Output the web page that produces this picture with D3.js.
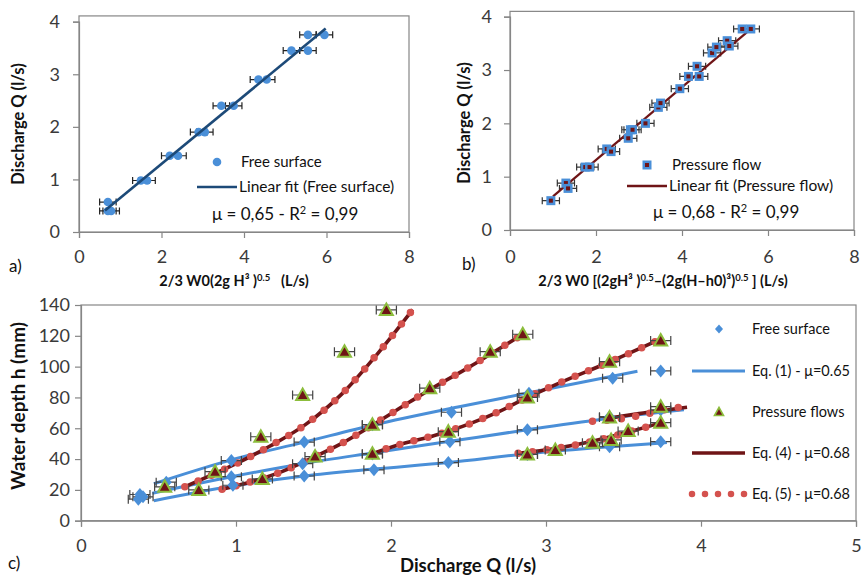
<!DOCTYPE html>
<html>
<head>
<meta charset="utf-8">
<script src="https://cdn.jsdelivr.net/npm/d3@7"></script>
<style>
  body { margin: 0; background: #fff; }
  svg { display: block; font-family: Lato, "Open Sans", sans-serif; }
</style>
</head>
<body>
<div id="mainGraphic"></div>
<script>
let svgWidth = 863
let svgHeight = 579

// ---- panel a : free surface, Q vs 2/3 W0 (2g H^3)^0.5
const aFree = [[0.70,0.40],[0.78,0.40],[0.70,0.57],[1.50,0.98],[1.65,0.98],[2.20,1.45],[2.40,1.45],
  [2.90,1.90],[3.05,1.90],[3.45,2.40],[3.75,2.40],[4.35,2.90],[4.55,2.90],[5.15,3.45],[5.55,3.45],
  [5.55,3.75],[5.95,3.75]]
const aFit = [[0.63,0.41],[5.98,3.87]]
// ---- panel b : pressure flow
const bPress = [[0.95,0.55],[1.30,0.88],[1.35,0.78],[1.75,1.18],[1.85,1.18],[2.25,1.52],[2.35,1.47],
  [2.75,1.72],[2.80,1.88],[2.85,1.88],[3.15,2.00],[3.45,2.30],[3.50,2.38],[3.95,2.65],[4.15,2.88],
  [4.35,3.07],[4.40,2.88],[4.70,3.32],[4.80,3.43],[5.05,3.55],[5.10,3.45],[5.40,3.77],[5.60,3.77]]
const bFit = [[1.00,0.63],[5.63,3.79]]
const abTicksX = [0, 2, 4, 6, 8]
const abTicksY = [0, 1, 2, 3, 4]

// ---- panel c : water depth vs discharge
const cFree = [[0.37,14],[0.38,17],[0.40,15.5],[0.55,25],[0.97,39],[0.97,28.6],[0.98,23],[1.44,51],
  [1.43,37],[1.44,29],[1.88,62.3],[1.88,43.3],[1.89,33],[2.39,70.4],[2.38,51.3],[2.37,37.7],
  [2.89,82.7],[2.88,59],[2.88,43],[3.43,92.5],[3.41,67.5],[3.41,48],[3.74,97.2],[3.74,71.9],[3.74,51.3]]
const cPress = [[0.54,22],[0.76,20],[0.865,31.8],[1.16,54.5],[1.17,27.1],[1.43,81.6],[1.51,41.6],
  [1.70,109.7],[1.97,136.8],[1.88,62.3],[1.88,43.5],[2.25,86],[2.37,57.8],[2.64,109.7],[2.85,121],
  [2.88,80],[2.88,43],[3.06,45.9],[3.30,50.6],[3.41,103.2],[3.41,67],[3.42,52.4],[3.53,58.2],
  [3.74,116.9],[3.74,74],[3.74,63.6]]
const eq1Lines = [
  [[0.47,24],[0.97,39.5],[1.44,51],[1.88,62],[2.44,74],[2.89,83],[3.59,97]],
  [[0.46,17.8],[0.97,28.5],[1.43,37],[1.88,44],[2.38,51.5],[2.88,59],[3.41,66.5],[3.89,72]],
  [[0.47,13],[0.98,22.5],[1.44,29],[1.89,33.5],[2.37,37.8],[2.88,43.5],[3.41,48],[3.78,50.7]]
]
const eq4Lines = [
  [[0.67,22],[0.98,36],[1.22,48.5],[1.45,62.5],[1.68,82],[1.91,108],[2.14,137]],
  [[0.91,20.4],[1.10,25.3],[1.30,32],[1.51,41.6],[1.67,49.5],[1.88,62],[2.12,77],[2.25,85],[2.51,100],[2.64,108],[2.85,121]],
  [[1.88,43.5],[2.04,49],[2.27,55],[2.51,63],[2.70,71],[2.88,80],[3.10,90],[3.41,103],[3.72,117]],
  [[2.82,43.7],[3.06,46.8],[3.30,51.5],[3.53,57.5],[3.74,63.5]],
  [[3.40,66.5],[3.60,69.5],[3.91,73.6]]
]
const eq5Lines = [eq4Lines[0], eq4Lines[1], eq4Lines[2], eq4Lines[3],
  [[3.30,64.5],[3.51,66.5],[3.62,68.6],[3.81,73],[3.90,74]]]
const cTicksX = [0, 1, 2, 3, 4, 5]
const cTicksY = [0, 20, 40, 60, 80, 100, 120, 140]
const cLegend = ["Free surface", "Eq. (1) - \u03bc=0.65", "Pressure flows", "Eq. (4) - \u03bc=0.68", "Eq. (5) - \u03bc=0.68"]

const blue = "#4a8fd8", darkRed = "#6f1416", dotRed = "#d4524e", navy = "#1d4a78",
      green = "#8cbd3c", axisGray = "#868686", tickText = "#3a3a3a"

renderChart();

function renderChart(){
  let graphic = d3.select("#mainGraphic")
    .append("svg")
      .attr("width", svgWidth)
      .attr("height", svgHeight)

  // ---------- helpers
  function axes(g, x, y, xTicks, yTicks, topY, yPad, xPad){
    g.append("rect")
      .attr("x", x.range()[0]).attr("y", topY)
      .attr("width", x.range()[1] - x.range()[0]).attr("height", y.range()[0] - topY)
      .attr("fill", "none").attr("stroke", axisGray).attr("stroke-width", 1.2)
    let ya = g.append("g").attr("transform", `translate(${x.range()[0]},0)`)
      .call(d3.axisLeft(y).tickValues(yTicks).tickFormat(d3.format("d")).tickSize(6).tickPadding(yPad))
    let xa = g.append("g").attr("transform", `translate(0,${y.range()[0]})`)
      .call(d3.axisBottom(x).tickValues(xTicks).tickFormat(d3.format("d")).tickSize(6).tickPadding(xPad))
    for (let a of [ya, xa]) {
      a.select(".domain").attr("stroke", axisGray).attr("stroke-width", 1.2)
      a.selectAll(".tick line").attr("stroke", axisGray).attr("stroke-width", 1.2)
      a.selectAll(".tick text").attr("fill", tickText).style("font-size", "18px")
        .style("font-family", "Lato, 'Open Sans', sans-serif")
    }
  }
  function hBars(g, pts, x, y, half, cap, color){
    let e = g.append("g").attr("stroke", color).attr("stroke-width", 1.2).attr("fill", "none")
    e.selectAll("path").data(pts).enter().append("path")
      .attr("d", d => {
        let x0 = x(d[0] - half), x1 = x(d[0] + half), yy = y(d[1])
        return `M${x0},${yy}H${x1}M${x0},${yy - cap}V${yy + cap}M${x1},${yy - cap}V${yy + cap}`
      })
  }
  function label(txt, xx, yy, size, weight, anchor){
    return graphic.append("text").attr("x", xx).attr("y", yy)
      .attr("font-size", size).attr("font-weight", weight || "normal")
      .attr("text-anchor", anchor || "start").attr("fill", "#111").text(txt)
  }
  function vLabel(txt, xx, yy, size){
    return graphic.append("text").attr("transform", `translate(${xx},${yy}) rotate(-90)`)
      .attr("font-size", size).attr("font-weight", "bold").attr("text-anchor", "middle")
      .attr("fill", "#111").text(txt)
  }
  const line = d3.line()

  // ---------- panel a
  let ax = d3.scaleLinear().domain([0, 8]).range([79, 409])
  let ay = d3.scaleLinear().domain([0, 4]).range([232, 21.7])
  let ga = graphic.append("g")
  axes(ga, ax, ay, abTicksX, abTicksY, ay(4.11), 13, 12)
  hBars(ga, aFree, ax, ay, 0.2, 3.5, "#222")
  ga.append("g").selectAll("circle").data(aFree).enter().append("circle")
    .attr("cx", d => ax(d[0])).attr("cy", d => ay(d[1])).attr("r", 4.3).attr("fill", blue)
  ga.append("path").datum(aFit).attr("d", line.x(d => ax(d[0])).y(d => ay(d[1])))
    .attr("stroke", navy).attr("stroke-width", 2.6).attr("fill", "none")
  ga.append("circle").attr("cx", 217).attr("cy", 162).attr("r", 4.3).attr("fill", blue)
  label("Free surface", 241, 167, 15)
  ga.append("line").attr("x1", 197).attr("x2", 237).attr("y1", 187).attr("y2", 187)
    .attr("stroke", navy).attr("stroke-width", 2.6)
  label("Linear fit (Free surface)", 239, 192, 15.5)
  let mA = label("\u03bc = 0,65 - R", 212, 220, 17)
  mA.append("tspan").attr("font-size", 11).attr("baseline-shift", "super").text("2")
  mA.append("tspan").text(" = 0,99")
  vLabel("Discharge Q (l/s)", 24, 124, 16.5)
  let tA = label("2/3 W0(2g H\u00b3 )", 234, 286, 14.5, "bold", "middle")
  tA.append("tspan").attr("font-size", 9.5).attr("baseline-shift", "super").text("0.5")
  tA.append("tspan").text("\u00a0\u00a0\u00a0(L/s)")
  label("a)", 9, 272, 17)

  // ---------- panel b
  let bx = d3.scaleLinear().domain([0, 8]).range([510, 854])
  let by = d3.scaleLinear().domain([0, 4]).range([230, 16.7])
  let gb = graphic.append("g")
  axes(gb, bx, by, abTicksX, abTicksY, by(4.1), 12, 14)
  hBars(gb, bPress, bx, by, 0.2, 3.5, "#333")
  gb.append("path").datum(bFit).attr("d", line.x(d => bx(d[0])).y(d => by(d[1])))
    .attr("stroke", darkRed).attr("stroke-width", 2.2).attr("fill", "none")
  let sq = gb.append("g").selectAll("g").data(bPress).enter().append("g")
    .attr("transform", d => `translate(${bx(d[0])},${by(d[1])})`)
  sq.append("rect").attr("x", -4.5).attr("y", -4.5).attr("width", 9).attr("height", 9).attr("fill", blue)
  sq.append("rect").attr("x", -2).attr("y", -2).attr("width", 4).attr("height", 4).attr("fill", darkRed)
  gb.append("rect").attr("x", 642.5).attr("y", 160.5).attr("width", 9).attr("height", 9).attr("fill", blue)
  gb.append("rect").attr("x", 645).attr("y", 163).attr("width", 4).attr("height", 4).attr("fill", darkRed)
  label("Pressure flow", 672, 170, 15)
  gb.append("line").attr("x1", 627).attr("x2", 667).attr("y1", 186).attr("y2", 186)
    .attr("stroke", darkRed).attr("stroke-width", 2.4)
  label("Linear fit (Pressure flow)", 669, 191, 15.5)
  let mB = label("\u03bc = 0,68 - R", 653, 218, 17)
  mB.append("tspan").attr("font-size", 11).attr("baseline-shift", "super").text("2")
  mB.append("tspan").text(" = 0,99")
  vLabel("Discharge Q (l/s)", 470, 123, 16.5)
  let tB = label("2/3 W0 [(2gH\u00b3 )", 663, 286, 14.5, "bold", "middle")
  tB.append("tspan").attr("font-size", 9.5).attr("baseline-shift", "super").text("0.5")
  tB.append("tspan").text("\u2013(2g(H\u2013h0)\u00b3)")
  tB.append("tspan").attr("font-size", 9.5).attr("baseline-shift", "super").text("0.5")
  tB.append("tspan").text(" ] (L/s)")
  label("b)", 462, 270, 17)

  // ---------- panel c
  let cx = d3.scaleLinear().domain([0, 5]).range([81, 856])
  let cy = d3.scaleLinear().domain([0, 140]).range([520.7, 305])
  let gc = graphic.append("g")
  axes(gc, cx, cy, cTicksX, cTicksY, 305, 5, 13)
  const cLine = d3.line().curve(d3.curveMonotoneX).x(d => cx(d[0])).y(d => cy(d[1]))
  gc.append("g").selectAll("path").data(eq1Lines).enter().append("path")
    .attr("d", cLine).attr("stroke", blue).attr("stroke-width", 3).attr("fill", "none")
  gc.append("g").selectAll("path").data(eq4Lines).enter().append("path")
    .attr("d", cLine).attr("stroke", darkRed).attr("stroke-width", 3.6).attr("fill", "none")
  gc.append("g").selectAll("path").data(eq5Lines).enter().append("path")
    .attr("d", cLine).attr("stroke", dotRed).attr("stroke-width", 7.5).attr("fill", "none")
    .attr("stroke-linecap", "round").attr("stroke-dasharray", "0 14.5")
  hBars(gc, cFree, cx, cy, 0.065, 4.5, "#444")
  hBars(gc, cPress, cx, cy, 0.065, 4.5, "#444")
  const diamond = "M0,-6.5L5.5,0L0,6.5L-5.5,0Z"
  const tri = "M0,-6.5L6.5,5L-6.5,5Z"
  gc.append("g").selectAll("path").data(cFree).enter().append("path")
    .attr("d", diamond).attr("fill", blue)
    .attr("transform", d => `translate(${cx(d[0])},${cy(d[1])})`)
  gc.append("g").selectAll("path").data(cPress).enter().append("path")
    .attr("d", tri).attr("fill", darkRed).attr("stroke", green).attr("stroke-width", 2)
    .attr("transform", d => `translate(${cx(d[0])},${cy(d[1])})`)

  // legend c
  let legY = [329, 371, 412, 453, 494]
  gc.append("path").attr("d", "M0,-4.5L4,0L0,4.5L-4,0Z").attr("fill", blue)
    .attr("transform", `translate(719,${legY[0]})`)
  gc.append("line").attr("x1", 692).attr("x2", 745).attr("y1", legY[1]).attr("y2", legY[1])
    .attr("stroke", blue).attr("stroke-width", 3)
  gc.append("path").attr("d", "M0,-4.5L4.5,3.5L-4.5,3.5Z").attr("fill", darkRed)
    .attr("stroke", green).attr("stroke-width", 1.6).attr("transform", `translate(719,${legY[2]})`)
  gc.append("line").attr("x1", 692).attr("x2", 745).attr("y1", legY[3]).attr("y2", legY[3])
    .attr("stroke", darkRed).attr("stroke-width", 3.6)
  gc.append("line").attr("x1", 692).attr("x2", 745).attr("y1", legY[4]).attr("y2", legY[4])
    .attr("stroke", dotRed).attr("stroke-width", 6.5).attr("stroke-linecap", "round")
    .attr("stroke-dasharray", "0 13")
  cLegend.forEach((t, i) => label(t, 752, legY[i] + 5, 14.5))

  vLabel("Water depth h (mm)", 25, 406, 19)
  label("Discharge Q (l/s)", 468, 572, 18.5, "bold", "middle")
  label("c)", 8, 569, 17)
}
</script>
</body>
</html>
